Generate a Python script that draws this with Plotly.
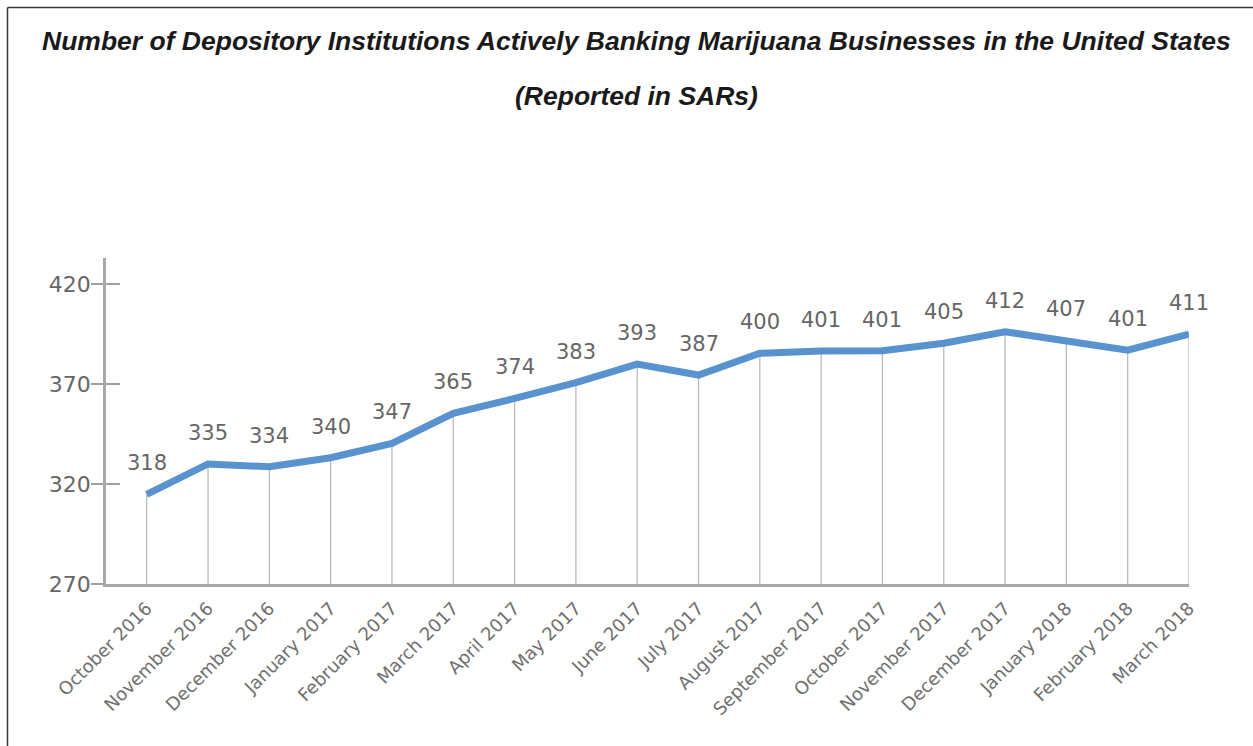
import plotly.graph_objects as go

months = ["October 2016", "November 2016", "December 2016", "January 2017",
          "February 2017", "March 2017", "April 2017", "May 2017", "June 2017",
          "July 2017", "August 2017", "September 2017", "October 2017",
          "November 2017", "December 2017", "January 2018", "February 2018",
          "March 2018"]
# printed data labels
label_values = [318, 335, 334, 340, 347, 365, 374, 383, 393, 387, 400, 401,
                401, 405, 412, 407, 401, 411]
# line positions as read against the drawn y axis
plotted_values = [314.9, 330.1, 328.7, 333.2, 340.4, 355.4, 362.9, 370.8, 380.1,
                  374.6, 385.5, 386.6, 386.8, 390.5, 396.3, 392.1, 387.1, 395.1]
y_ticks = [270, 320, 370, 420]

title_line1 = "Number of Depository Institutions Actively Banking Marijuana Businesses in the United States"
title_line2 = "(Reported in SARs)"

base = y_ticks[0]
xs = list(range(len(months)))

fig = go.Figure()
# drop lines from baseline to the line
fig.add_trace(go.Scatter(
    x=xs, y=plotted_values, mode="markers",
    marker=dict(size=1, opacity=0),
    error_y=dict(type="data", symmetric=False,
                 array=[0] * len(xs),
                 arrayminus=[v - base for v in plotted_values],
                 color="#b5b5b5", thickness=1.2, width=0),
    hoverinfo="skip", showlegend=False))
fig.add_trace(go.Scatter(
    x=xs, y=plotted_values, mode="lines",
    line=dict(color="#5892cf", width=7),
    showlegend=False))
# overlay axis to draw inward half of y ticks
fig.add_trace(go.Scatter(x=[xs[0]], y=[base], yaxis="y2", mode="markers",
                         marker=dict(opacity=0), showlegend=False, hoverinfo="skip"))

lab_font = "DejaVu Sans, sans-serif"
annotations = []
for x, yv, lab in zip(xs, plotted_values, label_values):
    annotations.append(dict(x=x, y=yv, xref="x", yref="y", text=str(lab),
                            showarrow=False, yshift=31, yanchor="middle",
                            font=dict(family=lab_font, size=21, color="#666666")))

W_left, W_right, T, B = 106, 1189, 258, 584
pw, ph = W_right - W_left, B - T
def px(xp):
    return (xp - W_left) / pw
def py(yp):
    return (B - yp) / ph

title_font = dict(family="Liberation Sans, Arial, sans-serif", size=26.5, color="#1a1a1a")
annotations.append(dict(x=px(636), y=py(41), xref="paper", yref="paper",
                        text="<b><i>" + title_line1 + "</i></b>", showarrow=False,
                        xanchor="center", yanchor="middle", font=title_font))
annotations.append(dict(x=px(636), y=py(96), xref="paper", yref="paper",
                        text="<b><i>" + title_line2 + "</i></b>", showarrow=False,
                        xanchor="center", yanchor="middle", font=title_font))

shapes = [
    dict(type="line", xref="paper", yref="paper", x0=px(7.5), x1=px(7.5),
         y0=py(746), y1=py(7.5), line=dict(color="#3a3a3a", width=1.5)),
    dict(type="line", xref="paper", yref="paper", x0=px(7.5), x1=px(1253),
         y0=py(7.5), y1=py(7.5), line=dict(color="#3a3a3a", width=1.5)),
]

yr = [270, 433.2]
fig.update_layout(
    width=1253, height=746,
    margin=dict(l=W_left, r=1253 - W_right, t=T, b=746 - B),
    paper_bgcolor="white", plot_bgcolor="white",
    showlegend=False,
    annotations=annotations, shapes=shapes,
    xaxis=dict(range=[-0.664, len(months) - 1], tickmode="array", tickvals=xs,
               ticktext=months, tickangle=-45, showgrid=False, zeroline=False,
               showline=True, linecolor="#a8a8a8", linewidth=2.5, ticks="",
               automargin=False, ticklabelstandoff=4,
               tickfont=dict(family=lab_font, size=18, color="#707070")),
    yaxis=dict(range=yr, tickmode="array", tickvals=y_ticks, showgrid=False,
               zeroline=False, showline=True, linecolor="#a8a8a8", linewidth=2.5,
               ticks="outside", ticklen=12, tickwidth=1.5, tickcolor="#a0a0a0",
               ticklabelstandoff=-4, automargin=False,
               tickfont=dict(family=lab_font, size=22, color="#666666")),
    yaxis2=dict(range=yr, overlaying="y", side="left", tickmode="array",
                tickvals=y_ticks, showticklabels=False, ticks="inside",
                ticklen=14, tickwidth=1.5, tickcolor="#a0a0a0", showgrid=False,
                zeroline=False, showline=False, automargin=False),
)

fig.write_html("out.html", config={"displayModeBar": False},
               post_script="document.body.style.margin='0';document.body.style.overflow='hidden';")
